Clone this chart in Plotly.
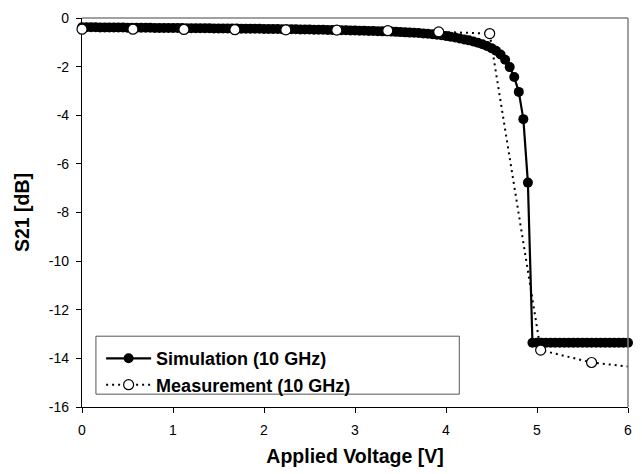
import plotly.graph_objects as go

# Simulated S21 at 10 GHz, 0.05 V steps
sim_voltage = [
    0.00, 0.05, 0.10, 0.15, 0.20, 0.25, 0.30, 0.35, 0.40, 0.45,
    0.50, 0.55, 0.60, 0.65, 0.70, 0.75, 0.80, 0.85, 0.90, 0.95,
    1.00, 1.05, 1.10, 1.15, 1.20, 1.25, 1.30, 1.35, 1.40, 1.45,
    1.50, 1.55, 1.60, 1.65, 1.70, 1.75, 1.80, 1.85, 1.90, 1.95,
    2.00, 2.05, 2.10, 2.15, 2.20, 2.25, 2.30, 2.35, 2.40, 2.45,
    2.50, 2.55, 2.60, 2.65, 2.70, 2.75, 2.80, 2.85, 2.90, 2.95,
    3.00, 3.05, 3.10, 3.15, 3.20, 3.25, 3.30, 3.35, 3.40, 3.45,
    3.50, 3.55, 3.60, 3.65, 3.70, 3.75, 3.80, 3.85, 3.90, 3.95,
    4.00, 4.05, 4.10, 4.15, 4.20, 4.25, 4.30, 4.35, 4.40, 4.45,
    4.50, 4.55, 4.60, 4.65, 4.70, 4.75, 4.80, 4.85, 4.90, 4.95,
    5.00, 5.05, 5.10, 5.15, 5.20, 5.25, 5.30, 5.35, 5.40, 5.45,
    5.50, 5.55, 5.60, 5.65, 5.70, 5.75, 5.80, 5.85, 5.90, 5.95,
    6.00,
]
sim_s21 = [
    -0.38, -0.38, -0.38, -0.38, -0.39, -0.39, -0.39, -0.39, -0.39, -0.39,
    -0.40, -0.40, -0.40, -0.40, -0.40, -0.40, -0.41, -0.41, -0.41, -0.41,
    -0.41, -0.41, -0.41, -0.42, -0.42, -0.42, -0.42, -0.42, -0.42, -0.43,
    -0.43, -0.43, -0.43, -0.43, -0.43, -0.44, -0.44, -0.44, -0.44, -0.44,
    -0.45, -0.45, -0.45, -0.45, -0.46, -0.46, -0.46, -0.46, -0.47, -0.47,
    -0.47, -0.48, -0.48, -0.48, -0.49, -0.49, -0.49, -0.50, -0.50, -0.51,
    -0.51, -0.52, -0.52, -0.53, -0.53, -0.54, -0.55, -0.55, -0.56, -0.57,
    -0.58, -0.59, -0.60, -0.61, -0.62, -0.64, -0.65, -0.67, -0.69, -0.71,
    -0.74, -0.77, -0.80, -0.84, -0.88, -0.92, -0.97, -1.02, -1.08, -1.15,
    -1.24, -1.35, -1.50, -1.72, -2.02, -2.43, -3.04, -4.16, -6.77, -13.36,
    -13.36, -13.36, -13.36, -13.36, -13.36, -13.36, -13.36, -13.36, -13.36, -13.36,
    -13.36, -13.36, -13.36, -13.36, -13.36, -13.36, -13.36, -13.36, -13.36, -13.36,
    -13.36,
]

# Measured S21 at 10 GHz
meas_voltage = [0.00, 0.56, 1.12, 1.68, 2.24, 2.80, 3.36, 3.92, 4.48, 5.04, 5.60, 6.16]
meas_s21 = [-0.46, -0.46, -0.47, -0.48, -0.49, -0.50, -0.52, -0.57, -0.64, -13.66, -14.17, -14.40]

x_ticks = [0, 1, 2, 3, 4, 5, 6]
x_tick_labels = ["0", "1", "2", "3", "4", "5", "6"]
y_ticks = [0, -2, -4, -6, -8, -10, -12, -14, -16]
y_tick_labels = ["0", "-2", "-4", "-6", "-8", "-10", "-12", "-14", "-16"]

FONT = "Liberation Sans, Arial, sans-serif"

fig = go.Figure()

fig.add_trace(go.Scatter(
    x=sim_voltage, y=sim_s21,
    mode="lines+markers",
    name="Simulation (10 GHz)",
    line=dict(color="black", width=2.2),
    marker=dict(symbol="circle", size=10, color="black"),
    cliponaxis=False,
))

fig.add_trace(go.Scatter(
    x=meas_voltage, y=meas_s21,
    mode="lines+markers",
    name="Measurement (10 GHz)",
    line=dict(color="black", width=2, dash="2px,4px"),
    marker=dict(symbol="circle", size=10, color="white",
                line=dict(color="black", width=1.2)),
    cliponaxis=False,
))

fig.update_layout(
    width=642, height=474,
    margin=dict(l=82, r=10, t=15, b=64),
    paper_bgcolor="white",
    plot_bgcolor="white",
    font=dict(family=FONT, size=14, color="black"),
    showlegend=True,
    legend=dict(
        x=0.035, y=0.172, xanchor="left", yanchor="top",
        bgcolor="rgba(0,0,0,0)", borderwidth=0,
        font=dict(family=FONT, size=18, color="black", weight="bold"),
        tracegroupgap=0, itemwidth=45,
    ),
    shapes=[
        # legend frame
        dict(type="rect", xref="paper", yref="paper",
             x0=0.0255, x1=0.691, y0=0.033, y1=0.182,
             line=dict(color="#555555", width=1), fillcolor="rgba(0,0,0,0)",
             layer="below"),
        # top and right plot frame
        dict(type="line", xref="paper", yref="paper", x0=0, x1=1, y0=1, y1=1,
             line=dict(color="#808080", width=1.5)),
        dict(type="line", xref="paper", yref="paper", x0=1, x1=1, y0=0, y1=1,
             line=dict(color="#808080", width=1.5)),
    ],
)

fig.update_xaxes(
    range=[0, 6],
    tickvals=x_ticks, ticktext=x_tick_labels,
    ticks="outside", ticklen=5, tickwidth=1, tickcolor="black",
    ticklabelstandoff=5,
    showline=True, linecolor="black", linewidth=1.2,
    showgrid=False, zeroline=False,
    layer="below traces",
    tickfont=dict(family=FONT, size=14, color="black"),
    title=dict(text="Applied Voltage [V]", standoff=12,
               font=dict(family=FONT, size=19.5, color="black", weight="bold")),
)
fig.update_yaxes(
    range=[-16, 0],
    tickvals=y_ticks, ticktext=y_tick_labels,
    ticks="outside", ticklen=5, tickwidth=1, tickcolor="black",
    ticklabelstandoff=4,
    showline=True, linecolor="black", linewidth=1.2,
    showgrid=False, zeroline=False,
    layer="below traces",
    tickfont=dict(family=FONT, size=14, color="black"),
    title=dict(text="S21 [dB]", standoff=14,
               font=dict(family=FONT, size=19.5, color="black", weight="bold")),
)

fig.write_html("out.html")
